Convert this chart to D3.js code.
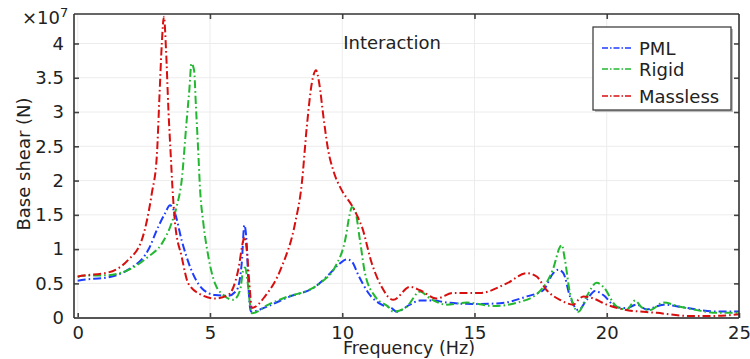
<!DOCTYPE html>
<html><head><meta charset="utf-8">
<script src="https://cdn.jsdelivr.net/npm/d3@7"></script>
<style>body{margin:0;background:#fff}svg{display:block}text{font-family:"DejaVu Sans",sans-serif;fill:#222}</style>
</head><body><svg id="c" width="750" height="359"></svg>
<script>
const xTicks = [0, 5, 10, 15, 20, 25];
const yTicks = [0, 0.5, 1, 1.5, 2, 2.5, 3, 3.5, 4];
const yTickLabels = ["0", "0.5", "1", "1.5", "2", "2.5", "3", "3.5", "4"];
const seriesNames = ["PML", "Rigid", "Massless"];
const seriesColors = ["#1c3cff", "#22b830", "#d80f0f"];

// Frequency (Hz), Base shear (x1e7 N)
const pmlFreq = [0, 0.15, 1.16, 1.91, 2.67, 3.05, 3.30, 3.49, 3.68, 3.93, 4.25, 4.69, 5.19, 5.69, 6.01, 6.20, 6.30, 6.39, 6.45, 6.55, 7.21, 7.96, 8.97, 9.47, 9.85, 10.17, 10.36, 10.61, 10.99, 11.49, 11.87, 12.06, 12.56, 12.94, 13.44, 13.95, 14.96, 15.97, 16.98, 17.6, 17.98, 18.17, 18.36, 18.61, 18.93, 19.24, 19.56, 19.87, 20.38, 20.76, 21.13, 21.51, 22.14, 22.9, 24.16, 25];
const pmlVal = [0.54, 0.55, 0.59, 0.70, 0.99, 1.33, 1.52, 1.64, 1.52, 1.13, 0.74, 0.43, 0.33, 0.32, 0.40, 0.79, 1.35, 1.08, 0.50, 0.087, 0.17, 0.30, 0.45, 0.62, 0.77, 0.85, 0.82, 0.62, 0.36, 0.19, 0.14, 0.087, 0.19, 0.25, 0.25, 0.22, 0.20, 0.21, 0.31, 0.40, 0.65, 0.70, 0.65, 0.31, 0.11, 0.26, 0.39, 0.33, 0.15, 0.14, 0.19, 0.12, 0.19, 0.15, 0.09, 0.09];

const rigidFreq = [0, 0.15, 1.16, 2.04, 2.67, 3.18, 3.55, 3.74, 3.93, 4.12, 4.22, 4.30, 4.40, 4.47, 4.56, 4.62, 4.75, 4.94, 5.19, 5.57, 5.88, 6.14, 6.26, 6.33, 6.43, 6.51, 6.58, 7.21, 7.96, 8.72, 9.22, 9.73, 10.11, 10.29, 10.36, 10.48, 10.67, 10.86, 11.24, 11.74, 11.93, 12.44, 12.94, 13.32, 13.95, 14.71, 15.71, 16.72, 17.48, 17.98, 18.23, 18.3, 18.42, 18.61, 18.93, 19.24, 19.62, 19.87, 20.38, 20.76, 21.07, 21.32, 21.64, 22.14, 22.77, 23.4, 24.16, 25];
const rigidVal = [0.59, 0.61, 0.62, 0.72, 0.89, 1.08, 1.38, 1.62, 2.0, 2.88, 3.32, 3.71, 3.61, 3.08, 2.40, 1.91, 1.38, 0.89, 0.50, 0.31, 0.26, 0.40, 0.70, 0.73, 0.50, 0.21, 0.064, 0.19, 0.31, 0.40, 0.52, 0.74, 1.13, 1.52, 1.61, 1.57, 1.13, 0.65, 0.31, 0.16, 0.087, 0.16, 0.38, 0.28, 0.19, 0.22, 0.17, 0.23, 0.39, 0.72, 1.03, 1.06, 0.84, 0.36, 0.087, 0.31, 0.51, 0.45, 0.16, 0.12, 0.25, 0.15, 0.11, 0.22, 0.16, 0.11, 0.07, 0.07];

const masslessFreq = [0, 0.15, 1.16, 1.9, 2.42, 2.8, 2.99, 3.09, 3.18, 3.26, 3.34, 3.43, 3.52, 3.58, 3.68, 3.93, 4.18, 4.69, 5.19, 5.69, 6.07, 6.26, 6.30, 6.39, 6.51, 6.58, 7.08, 7.71, 8.22, 8.47, 8.66, 8.85, 9.01, 9.13, 9.29, 9.47, 9.66, 9.98, 10.36, 10.61, 10.74, 11.12, 11.49, 11.93, 12.56, 12.94, 13.57, 14.2, 15.21, 16.22, 16.98, 17.35, 17.73, 18.23, 18.74, 18.93, 19.12, 19.49, 20.0, 20.63, 21.89, 23.15, 24.03, 25];
const masslessVal = [0.60, 0.61, 0.66, 0.84, 1.13, 1.81, 2.35, 3.22, 4.0, 4.39, 3.9, 3.03, 2.35, 1.91, 1.38, 0.89, 0.50, 0.33, 0.28, 0.33, 0.70, 1.13, 1.18, 0.99, 0.40, 0.14, 0.31, 0.74, 1.38, 1.95, 2.78, 3.42, 3.61, 3.42, 2.93, 2.44, 2.15, 1.86, 1.64, 1.45, 1.33, 0.79, 0.45, 0.26, 0.45, 0.40, 0.28, 0.36, 0.36, 0.50, 0.65, 0.60, 0.40, 0.26, 0.19, 0.26, 0.31, 0.28, 0.19, 0.12, 0.07, 0.025, 0.025, 0.05];

const series = [
  {name: seriesNames[0], color: seriesColors[0], xs: pmlFreq, ys: pmlVal},
  {name: seriesNames[1], color: seriesColors[1], xs: rigidFreq, ys: rigidVal},
  {name: seriesNames[2], color: seriesColors[2], xs: masslessFreq, ys: masslessVal}
];

const L = 74, R = 739, T = 14, B = 318;
const x = d3.scaleLinear().domain([-0.14, 25]).range([L, R]);
const y = d3.scaleLinear().domain([-0.005, 4.43]).range([B, T]);
const svg = d3.select("#c");

// grid
svg.append("g").selectAll("line").data(xTicks).join("line")
  .attr("x1", d => x(d)).attr("x2", d => x(d)).attr("y1", T).attr("y2", B)
  .attr("stroke", "#ececec").attr("stroke-width", 1);
svg.append("g").selectAll("line").data(yTicks).join("line")
  .attr("x1", L).attr("x2", R).attr("y1", d => y(d)).attr("y2", d => y(d))
  .attr("stroke", "#ececec").attr("stroke-width", 1);

// lines
svg.append("clipPath").attr("id", "pc").append("rect")
  .attr("x", L).attr("y", T).attr("width", R - L).attr("height", B - T);
const line = d3.line().x(d => x(d[0])).y(d => y(d[1])).curve(d3.curveMonotoneX);
const lg = svg.append("g").attr("clip-path", "url(#pc)");
series.forEach(s => {
  const pts = s.xs.map((v, i) => [v, s.ys[i]]);
  lg.append("path").datum(pts).attr("d", line).attr("fill", "none")
    .attr("stroke", s.color).attr("stroke-width", 2)
    .attr("stroke-dasharray", "8,3,1.6,3");
});

// axes
const ax = svg.append("g");
const xb = d3.axisBottom(x).tickValues(xTicks).tickSize(-5).tickPadding(8).tickFormat(d3.format("d"));
const gxb = ax.append("g").attr("transform", `translate(0,${B})`).call(xb);
const xt = d3.axisTop(x).tickValues(xTicks.filter(d => d > 0 && d < 25)).tickSize(-5).tickFormat("");
const gxt = ax.append("g").attr("transform", `translate(0,${T})`).call(xt);
const yl = d3.axisLeft(y).tickValues(yTicks).tickSize(-5).tickPadding(10).tickFormat((d, i) => yTickLabels[i]);
const gyl = ax.append("g").attr("transform", `translate(${L},0)`).call(yl);
const yr = d3.axisRight(y).tickValues(yTicks.filter(d => d > 0)).tickSize(-5).tickFormat("");
const gyr = ax.append("g").attr("transform", `translate(${R},0)`).call(yr);
[gxb, gxt, gyl, gyr].forEach(g => {
  g.select(".domain").remove();
  g.selectAll(".tick line").attr("stroke", "#444").attr("stroke-width", 1.6);
  g.selectAll("text").style("font-family", "DejaVu Sans").style("font-size", "18px").attr("fill", "#222");
});
svg.append("line").attr("x1", L).attr("x2", R).attr("y1", T).attr("y2", T).attr("stroke", "#333").attr("stroke-width", 1.4);
svg.append("line").attr("x1", L).attr("x2", R).attr("y1", B).attr("y2", B).attr("stroke", "#555").attr("stroke-width", 2);
svg.append("line").attr("x1", L).attr("x2", L).attr("y1", T).attr("y2", B).attr("stroke", "#333").attr("stroke-width", 1.6);
svg.append("line").attr("x1", R).attr("x2", R).attr("y1", T).attr("y2", B).attr("stroke", "#333").attr("stroke-width", 1.6);

// exponent
const ex = svg.append("text").attr("x", 22).attr("y", 24).style("font-size", "18px");
ex.append("tspan").text("×10");
ex.append("tspan").attr("dy", -7).style("font-size", "13px").text("7");

// titles
svg.append("text").attr("x", 409).attr("y", 354).attr("text-anchor", "middle").style("font-size", "17.5px").text("Frequency (Hz)");
svg.append("text").attr("x", 392).attr("y", 49).attr("text-anchor", "middle").style("font-size", "18px").text("Interaction");
svg.append("text").attr("transform", "translate(30,164) rotate(-90)").attr("text-anchor", "middle").style("font-size", "18px").text("Base shear (N)");

// legend
const lgX = 593, lgY = 27, lgW = 138, lgH = 83;
svg.append("rect").attr("x", lgX + 2).attr("y", lgY + 2).attr("width", lgW).attr("height", lgH).attr("fill", "#bbb");
svg.append("rect").attr("x", lgX).attr("y", lgY).attr("width", lgW).attr("height", lgH).attr("fill", "#fff").attr("stroke", "#333").attr("stroke-width", 1.2);
const rowsY = [48, 69, 96];
series.forEach((s, i) => {
  svg.append("line").attr("x1", 602).attr("x2", 633).attr("y1", rowsY[i]).attr("y2", rowsY[i])
    .attr("stroke", s.color).attr("stroke-width", 1.5).attr("stroke-dasharray", "6,2,1.5,2");
  svg.append("text").attr("x", 639).attr("y", rowsY[i] + 6.5).style("font-size", "18px").text(s.name);
});
</script></body></html>
